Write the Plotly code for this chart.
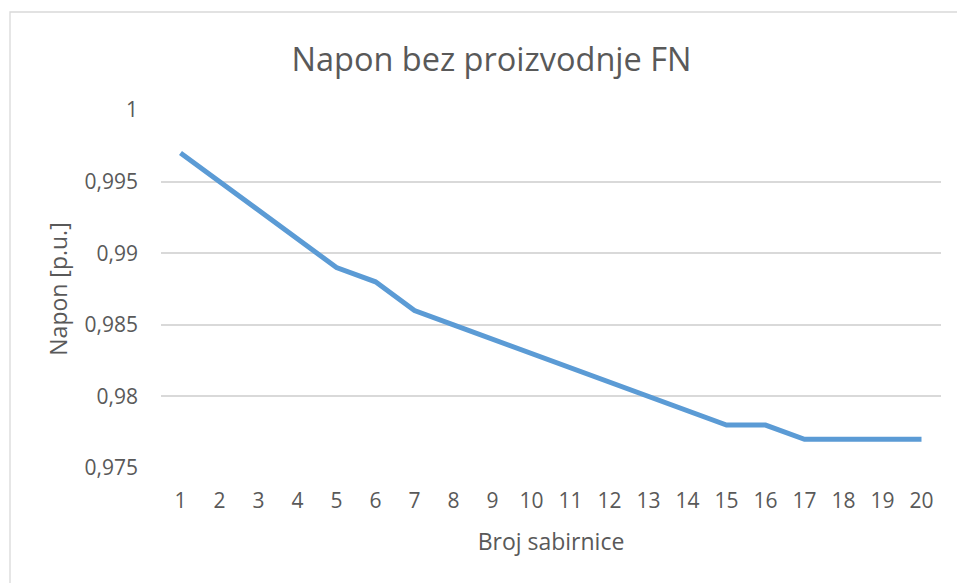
import plotly.graph_objects as go

categories = [str(i) for i in range(1, 21)]
napon = [0.997, 0.995, 0.993, 0.991, 0.989, 0.988, 0.986, 0.985, 0.984, 0.983,
         0.982, 0.981, 0.980, 0.979, 0.978, 0.978, 0.977, 0.977, 0.977, 0.977]
y_tickvals = [0.975, 0.98, 0.985, 0.99, 0.995, 1.0]
y_ticktext = ["0,975", "0,98", "0,985", "0,99", "0,995", "1"]

TXT = "#595959"
GRID = "#d9d9d9"
FONT = "Open Sans"

fig = go.Figure()
fig.add_trace(go.Scatter(
    x=categories, y=napon, mode="lines",
    line=dict(color="#5B9BD5", width=5),
    showlegend=False,
))

fig.update_layout(
    width=957, height=583,
    paper_bgcolor="white", plot_bgcolor="white",
    margin=dict(l=161, r=16, t=110, b=115),
    font=dict(family=FONT, color=TXT, size=21),
    title=dict(text="Napon bez proizvodnje FN", font=dict(size=32.5, color=TXT, family=FONT),
               x=491.5 / 957, xanchor="center", xref="container",
               y=1 - 60 / 583, yanchor="middle", yref="container"),
    xaxis=dict(type="category", range=[-0.5, 19.5], showgrid=False, zeroline=False,
               showline=False, ticks="", tickfont=dict(size=21, color=TXT),
               ticklabelstandoff=18,
               title=dict(text="Broj sabirnice", font=dict(size=23, color=TXT), standoff=20)),
    yaxis=dict(range=[0.975, 1.0], tickvals=y_tickvals, ticktext=y_ticktext,
               showgrid=True, gridcolor=GRID, gridwidth=1.5, zeroline=False,
               showline=False, ticks="", tickfont=dict(size=21, color=TXT),
               ticklabelstandoff=22,
               title=dict(text="Napon [p.u.]", font=dict(size=23, color=TXT), standoff=10)),
    shapes=[dict(type="rect", xref="paper", yref="paper",
                 x0=(10 - 161) / 780, x1=1.2, y0=-0.5, y1=(468 - 12) / 358,
                 line=dict(color=GRID, width=1.3), fillcolor="rgba(0,0,0,0)", layer="below")],
)

fig.write_html("out.html", config={"displayModeBar": False},
               post_script="document.body.style.margin='0';document.body.style.padding='0';")
